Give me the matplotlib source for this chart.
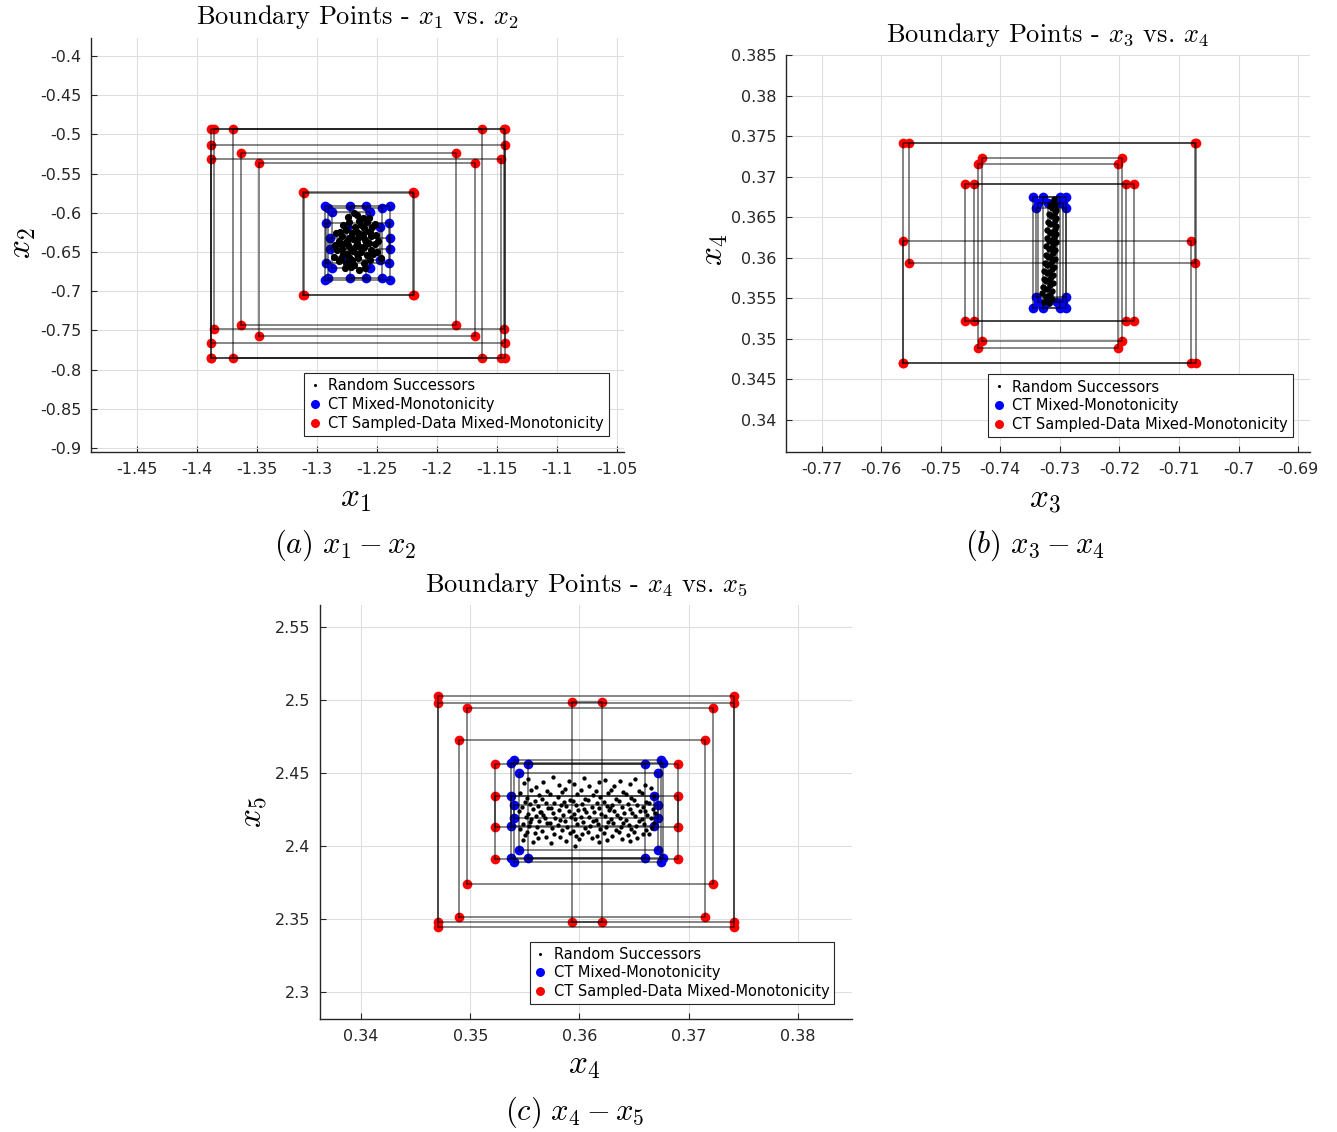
import numpy as np
import matplotlib
matplotlib.use("Agg")
import matplotlib.pyplot as plt
from matplotlib.ticker import FixedLocator, FuncFormatter

plt.rcParams['mathtext.fontset'] = 'cm'
plt.rcParams['axes.unicode_minus'] = False
plt.rcParams['font.family'] = 'DejaVu Sans'

# ---------------------------------------------------------------
# boxes: (xmin, xmax, ymin, ymax)
# panel (a)  x1 - x2
red_a = [(-1.3858, -1.1439, -0.7486, -0.4931),
         (-1.3886, -1.1433, -0.7665, -0.5135),
         (-1.3697, -1.1625, -0.7856, -0.4931),
         (-1.3636, -1.1838, -0.7431, -0.5233),
         (-1.3886, -1.1469, -0.7856, -0.5318),
         (-1.3483, -1.1683, -0.7568, -0.5369),
         (-1.3114, -1.2200, -0.7048, -0.5739),
         (-1.3108, -1.2195, -0.7043, -0.5745),
         (-1.3886, -1.1433, -0.7856, -0.4931)]
blue_a = [(-1.2933, -1.2392, -0.6857, -0.5913),
          (-1.2908, -1.2458, -0.6836, -0.5942),
          (-1.2725, -1.2592, -0.6836, -0.5913),
          (-1.2925, -1.2400, -0.6645, -0.6134),
          (-1.2892, -1.2392, -0.6462, -0.6325),
          (-1.2875, -1.2558, -0.6700, -0.5986),
          (-1.2753, -1.2475, -0.6600, -0.6177)]
rand_a_x = [-1.267, -1.262, -1.272, -1.261, -1.273, -1.267, -1.267, -1.257, -1.277, -1.263,
            -1.271, -1.259, -1.275, -1.258, -1.276, -1.264, -1.270, -1.255, -1.279, -1.255,
            -1.279, -1.265, -1.269, -1.261, -1.273, -1.254, -1.280, -1.252, -1.282, -1.260,
            -1.274, -1.266, -1.268, -1.256, -1.278, -1.262, -1.272, -1.276, -1.258, -1.253,
            -1.281, -1.251, -1.283, -1.264, -1.270, -1.259, -1.275, -1.267, -1.265, -1.280,
            -1.250, -1.284, -1.263, -1.271, -1.257, -1.277, -1.252, -1.282, -1.249, -1.285,
            -1.260, -1.274, -1.256, -1.278, -1.261, -1.273, -1.266, -1.268, -1.286, -1.247,
            -1.269]
rand_a_y = [-0.638, -0.630, -0.646, -0.644, -0.632, -0.624, -0.652, -0.638, -0.638, -0.616,
            -0.660, -0.623, -0.653, -0.654, -0.622, -0.643, -0.633, -0.630, -0.646, -0.647,
            -0.629, -0.610, -0.666, -0.664, -0.612, -0.618, -0.658, -0.640, -0.636, -0.635,
            -0.641, -0.658, -0.618, -0.660, -0.616, -0.607, -0.669, -0.664, -0.612, -0.652,
            -0.624, -0.628, -0.648, -0.627, -0.649, -0.640, -0.636, -0.603, -0.673, -0.640,
            -0.650, -0.626, -0.650, -0.626, -0.607, -0.670, -0.614, -0.662, -0.636, -0.641,
            -0.671, -0.605, -0.624, -0.652, -0.620, -0.656, -0.632, -0.644, -0.656, -0.658,
            -0.600]

# panel (b)  x3 - x4
red_b = [(-0.75634, -0.70803, 0.34699, 0.36207),
         (-0.75533, -0.70731, 0.35932, 0.37419),
         (-0.75634, -0.70714, 0.34699, 0.37419),
         (-0.74306, -0.71963, 0.34978, 0.37234),
         (-0.74373, -0.72030, 0.34884, 0.37156),
         (-0.74597, -0.71756, 0.35224, 0.36906),
         (-0.74445, -0.71891, 0.35224, 0.36906)]
blue_b = [(-0.7345, -0.7289, 0.3538, 0.3675),
          (-0.7337, -0.7295, 0.3546, 0.3667),
          (-0.7329, -0.7300, 0.3538, 0.3675),
          (-0.7340, -0.7289, 0.3552, 0.3661),
          (-0.7320, -0.7305, 0.3546, 0.3667)]
rand_b_x = [-0.7327, -0.7318, -0.7324, -0.7314, -0.7321, -0.7330, -0.7317, -0.7325, -0.7313, -0.7320,
            -0.7328, -0.7316, -0.7323, -0.7312, -0.7319, -0.7327, -0.7315, -0.7322, -0.7311, -0.7318,
            -0.7326, -0.7314, -0.7321, -0.7310, -0.7317, -0.7325, -0.7313, -0.7320, -0.7309, -0.7316,
            -0.7324, -0.7312, -0.7319, -0.7308, -0.7315, -0.7323, -0.7311, -0.7318, -0.7307, -0.7314,
            -0.7322, -0.7310, -0.7317, -0.7307, -0.7313, -0.7321, -0.7309, -0.7316, -0.7306, -0.7312,
            -0.7320, -0.7308, -0.7315, -0.7306, -0.7311, -0.7318, -0.7308, -0.7314, -0.7307, -0.7316,
            -0.7309, -0.7312, -0.7310]
rand_b_y = [0.3546, 0.3544, 0.3551, 0.3549, 0.3553, 0.3556, 0.3554, 0.3561, 0.3559, 0.3562,
            0.3564, 0.3566, 0.3571, 0.3569, 0.3572, 0.3574, 0.3576, 0.3581, 0.3579, 0.3582,
            0.3584, 0.3586, 0.3591, 0.3589, 0.3592, 0.3594, 0.3596, 0.3601, 0.3599, 0.3602,
            0.3604, 0.3606, 0.3611, 0.3609, 0.3612, 0.3614, 0.3616, 0.3621, 0.3619, 0.3622,
            0.3624, 0.3626, 0.3631, 0.3629, 0.3632, 0.3634, 0.3636, 0.3641, 0.3639, 0.3642,
            0.3644, 0.3646, 0.3651, 0.3649, 0.3652, 0.3654, 0.3656, 0.3661, 0.3659, 0.3664,
            0.3666, 0.3669, 0.3672]

# panel (c)  x4 - x5
red_c = [(0.34708, 0.37414, 2.34815, 2.50274),
         (0.34708, 0.37414, 2.34432, 2.49774),
         (0.35929, 0.36203, 2.34774, 2.49842),
         (0.34973, 0.37225, 2.37397, 2.49473),
         (0.34900, 0.37149, 2.35158, 2.47260),
         (0.35227, 0.36899, 2.39089, 2.45616),
         (0.35227, 0.36899, 2.41281, 2.43425)]
blue_c = [(0.3537, 0.3676, 2.3916, 2.4570),
          (0.3553, 0.3660, 2.3916, 2.4562),
          (0.3540, 0.3675, 2.3893, 2.4589),
          (0.3545, 0.3672, 2.3973, 2.4498),
          (0.3537, 0.3668, 2.4137, 2.4343),
          (0.3540, 0.3672, 2.4190, 2.4281)]
rand_c_x = [0.3549, 0.3546, 0.3550, 0.3547, 0.3545, 0.3551, 0.3548, 0.3546, 0.3550, 0.3548,
            0.3553, 0.3556, 0.3552, 0.3555, 0.3557, 0.3553, 0.3556, 0.3554, 0.3552, 0.3557, 0.3555,
            0.3560, 0.3563, 0.3559, 0.3562, 0.3564, 0.3560, 0.3563, 0.3561, 0.3559, 0.3562,
            0.3567, 0.3570, 0.3566, 0.3569, 0.3571, 0.3567, 0.3568, 0.3570, 0.3566, 0.3569, 0.3565,
            0.3576, 0.3573, 0.3577, 0.3574, 0.3576, 0.3578, 0.3573, 0.3575, 0.3577, 0.3574,
            0.3581, 0.3584, 0.3580, 0.3583, 0.3581, 0.3585, 0.3582, 0.3580, 0.3584, 0.3582, 0.3586,
            0.3590, 0.3587, 0.3591, 0.3588, 0.3590, 0.3592, 0.3587, 0.3589, 0.3591, 0.3588,
            0.3595, 0.3598, 0.3594, 0.3597, 0.3599, 0.3595, 0.3596, 0.3598, 0.3594, 0.3597, 0.3596,
            0.3604, 0.3601, 0.3605, 0.3602, 0.3604, 0.3606, 0.3601, 0.3603, 0.3605, 0.3602, 0.3600,
            0.3609, 0.3612, 0.3608, 0.3611, 0.3613, 0.3609, 0.3612, 0.3610, 0.3608, 0.3611,
            0.3618, 0.3615, 0.3619, 0.3616, 0.3618, 0.3620, 0.3615, 0.3617, 0.3619, 0.3616, 0.3618,
            0.3623, 0.3626, 0.3622, 0.3625, 0.3627, 0.3623, 0.3626, 0.3624, 0.3622, 0.3625,
            0.3632, 0.3629, 0.3633, 0.3630, 0.3632, 0.3634, 0.3629, 0.3631, 0.3633, 0.3630, 0.3628,
            0.3637, 0.3640, 0.3636, 0.3639, 0.3641, 0.3637, 0.3640, 0.3638, 0.3636, 0.3639,
            0.3646, 0.3643, 0.3647, 0.3644, 0.3646, 0.3648, 0.3643, 0.3645, 0.3647, 0.3644, 0.3646,
            0.3651, 0.3654, 0.3650, 0.3653, 0.3655, 0.3651, 0.3654, 0.3652, 0.3650, 0.3653,
            0.3660, 0.3657, 0.3661, 0.3658, 0.3660, 0.3662, 0.3657, 0.3659, 0.3661, 0.3658,
            0.3665, 0.3668, 0.3664, 0.3667, 0.3669, 0.3665, 0.3668, 0.3666, 0.3664]
rand_c_y = [2.4431, 2.4365, 2.4302, 2.4268, 2.4241, 2.4197, 2.4152, 2.4118, 2.4074, 2.4043,
            2.4459, 2.4387, 2.4329, 2.4286, 2.4255, 2.4222, 2.4183, 2.4140, 2.4097, 2.4030, 2.4167,
            2.4402, 2.4347, 2.4311, 2.4277, 2.4232, 2.4209, 2.4171, 2.4129, 2.4086, 2.4052,
            2.4441, 2.4378, 2.4320, 2.4292, 2.4260, 2.4215, 2.4190, 2.4158, 2.4106, 2.4065, 2.4236,
            2.4472, 2.4356, 2.4298, 2.4263, 2.4227, 2.4193, 2.4161, 2.4121, 2.4080, 2.4019,
            2.4418, 2.4369, 2.4334, 2.4283, 2.4249, 2.4213, 2.4178, 2.4146, 2.4112, 2.4061, 2.4302,
            2.4448, 2.4391, 2.4316, 2.4271, 2.4238, 2.4202, 2.4169, 2.4133, 2.4091, 2.4037,
            2.4425, 2.4359, 2.4306, 2.4279, 2.4244, 2.4220, 2.4185, 2.4149, 2.4103, 2.4070, 2.4001,
            2.4463, 2.4382, 2.4325, 2.4289, 2.4252, 2.4230, 2.4196, 2.4163, 2.4125, 2.4083, 2.4048,
            2.4409, 2.4351, 2.4313, 2.4266, 2.4235, 2.4199, 2.4174, 2.4137, 2.4095, 2.4058,
            2.4436, 2.4374, 2.4338, 2.4296, 2.4258, 2.4218, 2.4181, 2.4150, 2.4114, 2.4072, 2.4026,
            2.4453, 2.4362, 2.4300, 2.4275, 2.4247, 2.4206, 2.4166, 2.4127, 2.4088, 2.4041,
            2.4414, 2.4385, 2.4322, 2.4284, 2.4240, 2.4211, 2.4188, 2.4155, 2.4108, 2.4067, 2.4262,
            2.4444, 2.4368, 2.4309, 2.4270, 2.4229, 2.4195, 2.4160, 2.4131, 2.4099, 2.4050,
            2.4428, 2.4355, 2.4331, 2.4291, 2.4253, 2.4224, 2.4179, 2.4144, 2.4117, 2.4076, 2.4035,
            2.4457, 2.4379, 2.4318, 2.4281, 2.4243, 2.4204, 2.4172, 2.4135, 2.4093, 2.4056,
            2.4421, 2.4366, 2.4303, 2.4267, 2.4237, 2.4214, 2.4186, 2.4152, 2.4110, 2.4079,
            2.4397, 2.4341, 2.4294, 2.4256, 2.4225, 2.4191, 2.4157, 2.4123, 2.4085]

# ticks
xticks_a = [-1.45, -1.4, -1.35, -1.3, -1.25, -1.2, -1.15, -1.1, -1.05]
yticks_a = [-0.9, -0.85, -0.8, -0.75, -0.7, -0.65, -0.6, -0.55, -0.5, -0.45, -0.4]
xticks_b = [-0.77, -0.76, -0.75, -0.74, -0.73, -0.72, -0.71, -0.7, -0.69]
yticks_b = [0.34, 0.345, 0.35, 0.355, 0.36, 0.365, 0.37, 0.375, 0.38, 0.385]
xticks_c = [0.34, 0.35, 0.36, 0.37, 0.38]
yticks_c = [2.3, 2.35, 2.4, 2.45, 2.5, 2.55]


def draw_panel(ax, red, blue, rx, ry, ms_rand):
    ax.plot(rx, ry, 'o', color='k', ms=ms_rand, mew=0, ls='none', zorder=5,
            label='Random Successors')
    for boxes, col, lab in ((blue, 'b', 'CT Mixed-Monotonicity'),
                            (red, 'r', 'CT Sampled-Data Mixed-Monotonicity')):
        first = True
        for (x0, x1, y0, y1) in boxes:
            ax.plot([x0, x1, x0, x1], [y0, y0, y1, y1], 'o', color=col, ms=7, mew=0,
                    ls='none', zorder=2, label=lab if first else None)
            first = False
    for (x0, x1, y0, y1) in red + blue:
        ax.plot([x0, x1, x1, x0, x0], [y0, y0, y1, y1, y0], '-', color='k',
                lw=1.1, alpha=0.6, zorder=4)


def style(ax, xt, yt, xl, yl):
    ax.xaxis.set_major_locator(FixedLocator(xt))
    ax.yaxis.set_major_locator(FixedLocator(yt))
    fmt = FuncFormatter(lambda v, p: '%g' % round(v, 4))
    ax.xaxis.set_major_formatter(fmt)
    ax.yaxis.set_major_formatter(fmt)
    ax.set_xlim(xl)
    ax.set_ylim(yl)
    ax.grid(True, color='#dedede', lw=0.8)
    ax.set_axisbelow(True)
    for s in ('top', 'right'):
        ax.spines[s].set_visible(False)
    for s in ('left', 'bottom'):
        ax.spines[s].set_color('#262626')
        ax.spines[s].set_linewidth(1.0)
    ax.tick_params(direction='in', length=4, width=0.8, colors='#262626',
                   labelsize=11.5, pad=7)


def legend(ax, anchor):
    lg = ax.legend(loc='lower right', bbox_to_anchor=anchor, borderaxespad=0,
                   fontsize=10.5, fancybox=False, framealpha=1, edgecolor='#262626',
                   handlelength=0.8, handletextpad=0.5, borderpad=0.35,
                   labelspacing=0.25)
    lg.get_frame().set_linewidth(0.8)
    handles = lg.legend_handles
    handles[0].set_markersize(2.2)
    handles[1].set_markersize(6.5)
    handles[2].set_markersize(6.5)


fig = plt.figure(figsize=(13.37, 11.32), dpi=100)

ax_a = fig.add_axes([0.06806, 0.60071, 0.39865, 0.36572])
draw_panel(ax_a, red_a, blue_a, rand_a_x, rand_a_y, 5.2)
style(ax_a, xticks_a, yticks_a, (-1.4883, -1.0442), (-0.9051, -0.377))
ax_a.text(0.5, 1.051, r'Boundary Points - $x_1$ vs. $x_2$', transform=ax_a.transAxes,
          ha='center', va='center', fontsize=19, family='cmr10')
ax_a.set_xlabel(r'$x_1$', fontsize=24)
ax_a.set_ylabel(r'$x_2$', fontsize=24)
ax_a.xaxis.set_label_coords(0.496, -0.109)
ax_a.yaxis.set_label_coords(-0.131, 0.505)
legend(ax_a, (0.972, 0.039))

ax_b = fig.add_axes([0.58788, 0.60071, 0.39192, 0.35071])
draw_panel(ax_b, red_b, blue_b, rand_b_x, rand_b_y, 4.6)
style(ax_b, xticks_b, yticks_b, (-0.7760, -0.6880), (0.33605, 0.385))
ax_b.text(0.5, 1.050, r'Boundary Points - $x_3$ vs. $x_4$', transform=ax_b.transAxes,
          ha='center', va='center', fontsize=19, family='cmr10')
ax_b.set_xlabel(r'$x_3$', fontsize=24)
ax_b.set_ylabel(r'$x_4$', fontsize=24)
ax_b.xaxis.set_label_coords(0.494, -0.116)
ax_b.yaxis.set_label_coords(-0.139, 0.509)
legend(ax_b, (0.968, 0.038))

ax_c = fig.add_axes([0.23934, 0.09982, 0.39791, 0.36572])
draw_panel(ax_c, red_c, blue_c, rand_c_x, rand_c_y, 3.1)
style(ax_c, xticks_c, yticks_c, (0.33625, 0.38494), (2.2815, 2.5651))
ax_c.text(0.5, 1.048, r'Boundary Points - $x_4$ vs. $x_5$', transform=ax_c.transAxes,
          ha='center', va='center', fontsize=19, family='cmr10')
ax_c.set_xlabel(r'$x_4$', fontsize=24)
ax_c.set_ylabel(r'$x_5$', fontsize=24)
ax_c.xaxis.set_label_coords(0.496, -0.111)
ax_c.yaxis.set_label_coords(-0.126, 0.500)
legend(ax_c, (0.967, 0.036))

for ax in (ax_a, ax_b, ax_c):
    ax.xaxis.label.set_va('center')
    ax.yaxis.label.set_va('center')

fig.text(0.258, 1 - 545 / 1132, r'$(a)\ x_1 - x_2$', ha='center', va='center', fontsize=22)
fig.text(0.774, 1 - 545 / 1132, r'$(b)\ x_3 - x_4$', ha='center', va='center', fontsize=22)
fig.text(0.430, 1 - 1112 / 1132, r'$(c)\ x_4 - x_5$', ha='center', va='center', fontsize=22)

fig.savefig('out.png', dpi=100)
